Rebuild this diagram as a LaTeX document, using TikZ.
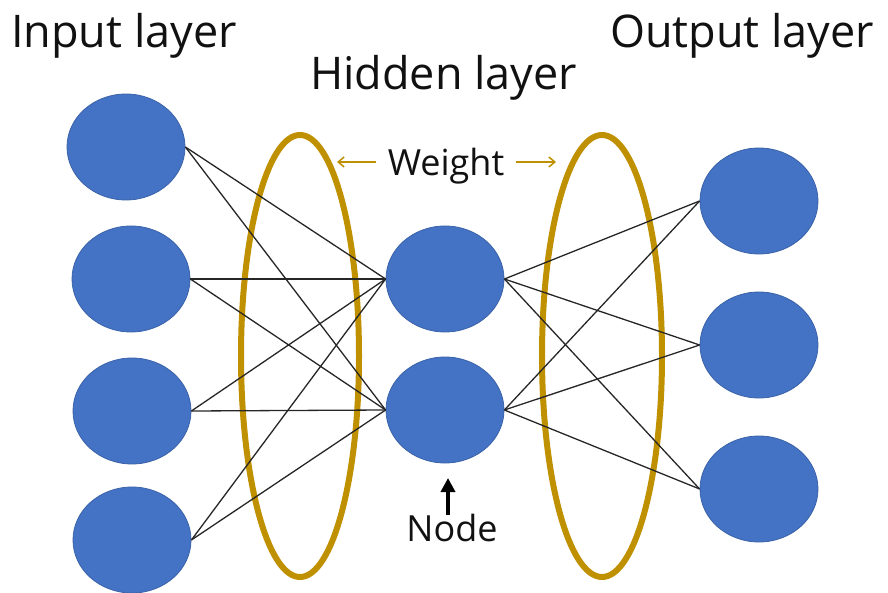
\documentclass[tikz,border=0pt]{standalone}
\usepackage{fontspec}
\setmainfont{Open Sans}
\usetikzlibrary{shapes.geometric,arrows.meta}
\definecolor{nodeblue}{HTML}{4472C4}
\definecolor{nodeedge}{HTML}{3A62A8}
\definecolor{gold}{HTML}{BF9000}
\definecolor{txt}{HTML}{111111}
\tikzset{
  neuron/.style={ellipse, fill=nodeblue, draw=nodeedge, line width=0.8pt,
    minimum width=118pt, minimum height=106pt, inner sep=0pt},
  ring/.style={ellipse, draw=gold, line width=6pt, inner sep=0pt},
  wire/.style={draw=black!85, line width=1.3pt},
  title/.style={font=\fontsize{45}{50}\selectfont, text=txt, inner sep=0pt},
  small/.style={font=\fontsize{36}{40}\selectfont, text=txt, inner sep=0pt},
  goldarrow/.style={draw=gold, line width=1.5pt, -{Straight Barb[length=6pt,width=10pt]}},
  blackarrow/.style={draw=black, line width=3.5pt, -{Triangle[length=14pt,width=14pt]}}
}
\begin{document}
\begin{tikzpicture}[x=1pt,y=-1pt]
\useasboundingbox (0,0) rectangle (888,593);
% gold rings
\node[ring, minimum width=118pt, minimum height=442pt] (ringL) at (300,356) {};
\node[ring, minimum width=120pt, minimum height=442pt] (ringR) at (602,356) {};
% neurons
\node[neuron] (i1) at (126,147) {};
\node[neuron] (i2) at (131,279) {};
\node[neuron] (i3) at (132,411) {};
\node[neuron] (i4) at (132,540) {};
\node[neuron] (h1) at (445,279) {};
\node[neuron] (h2) at (445,410) {};
\node[neuron] (o1) at (759,201) {};
\node[neuron] (o2) at (759,345) {};
\node[neuron] (o3) at (759,489) {};
% connections
\foreach \a in {i1,i2,i3,i4}{
  \foreach \b in {h1,h2}{
    \draw[wire] (\a.east) -- (\b.west);
  }
}
\foreach \a in {h1,h2}{
  \foreach \b in {o1,o2,o3}{
    \draw[wire] (\a.east) -- (\b.west);
  }
}
% titles
\node[title, anchor=base west] (tin) at (11,48) {Input layer};
\node[title, anchor=base west] (thid) at (310,90) {Hidden layer};
\node[title, anchor=base west] (tout) at (610,48) {Output layer};
% weight label
\node[small, anchor=base] (weight) at (446,176) {Weight};
\coordinate (wL) at (337,162);
\coordinate (wR) at (556,162);
\draw[goldarrow] ([xshift=-12pt]weight.west |- wL) -- (wL);
\draw[goldarrow] ([xshift=12pt]weight.east |- wR) -- (wR);
% node label
\node[small, anchor=base] (nodelbl) at (452,541) {Node};
\coordinate (ntip) at (448,478);
\draw[blackarrow] ([yshift=-2pt]nodelbl.north -| ntip) -- (ntip);
\end{tikzpicture}
\end{document}
